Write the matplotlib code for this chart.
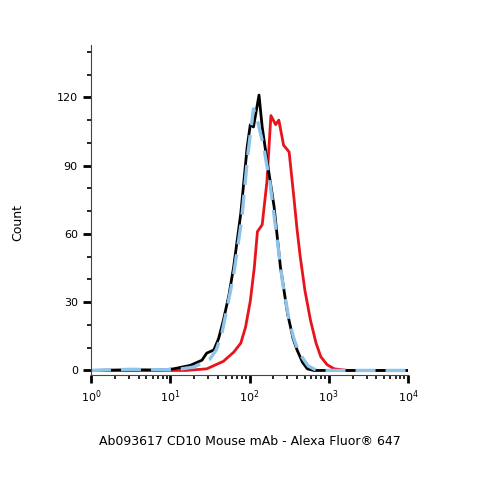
import matplotlib
matplotlib.use('Agg')
import matplotlib.pyplot as plt
import numpy as np
from matplotlib.ticker import LogLocator, MultipleLocator, NullFormatter

black_logx = [0.0, 0.5, 0.9, 1.04, 1.25, 1.40, 1.46, 1.55, 1.61, 1.67, 1.74, 1.80, 1.89, 1.97, 2.01, 2.05, 2.12, 2.16, 2.22, 2.31, 2.39, 2.48, 2.55, 2.60, 2.67, 2.73, 2.81, 4.0]
black_y = [0, 0.3, 0.2, 0.7, 2.2, 4.5, 7.6, 9, 14, 22, 33, 45.5, 69, 98, 108, 107, 121, 107, 92.5, 72, 45.5, 25, 14, 9, 3.5, 0.7, 0, 0]
blue_logx = [0.0, 0.5, 0.9, 1.1, 1.3, 1.5, 1.58, 1.65, 1.72, 1.80, 1.90, 1.98, 2.05, 2.10, 2.18, 2.26, 2.34, 2.42, 2.50, 2.56, 2.62, 2.74, 2.85, 4.0]
blue_y = [0, 0.5, 0.3, 0.5, 1.5, 5, 9, 16, 28, 42, 66, 95, 115, 110, 98, 82, 60, 38, 22, 14, 8, 2, 0, 0]
red_logx = [0.0, 1.2, 1.46, 1.67, 1.80, 1.89, 1.95, 2.01, 2.06, 2.10, 2.16, 2.22, 2.27, 2.33, 2.37, 2.43, 2.50, 2.56, 2.60, 2.64, 2.70, 2.77, 2.84, 2.90, 2.98, 3.07, 3.24, 4.0]
red_y = [0, 0, 0.7, 4, 8, 12, 19, 30.5, 45, 61, 64, 83, 112, 108, 110, 99, 96, 76, 62, 50, 35, 22, 12, 6, 2.5, 0.7, 0, 0]

fig = plt.figure(figsize=(4.79, 4.79), dpi=100)
ax = fig.add_axes([91/479, 1-375/479, 317/479, 330/479])
ax.plot(10**np.array(red_logx), red_y, color='#e8141b', lw=2)
ax.plot(10**np.array(black_logx), black_y, color='black', lw=2)
ax.plot(10**np.array(blue_logx), blue_y, color='#8ec3ea', lw=2.4, ls=(0, (6, 3)))
ax.set_xscale('log')
ax.set_xlim(1, 1e4)
ax.set_ylim(-2, 143)
for s in ['top', 'right']:
    ax.spines[s].set_visible(False)
ax.spines['left'].set_color('#444444')
ax.spines['bottom'].set_color('#444444')
ax.yaxis.set_major_locator(MultipleLocator(30))
ax.yaxis.set_minor_locator(MultipleLocator(10))
ax.xaxis.set_major_locator(LogLocator(10, numticks=10))
ax.xaxis.set_minor_locator(LogLocator(10, subs=np.arange(2, 10), numticks=10))
ax.xaxis.set_minor_formatter(NullFormatter())
ax.tick_params(which='major', length=6, width=2, labelsize=8)
ax.tick_params(which='minor', length=3, width=1.2)
ax.set_xlabel('Ab093617 CD10 Mouse mAb - Alexa Fluor® 647', fontsize=9, labelpad=22)
fig.text(18/479, 1-222/479, 'Count', rotation=90, fontsize=9, va='center', ha='center')
fig.savefig('out.png', dpi=100)
